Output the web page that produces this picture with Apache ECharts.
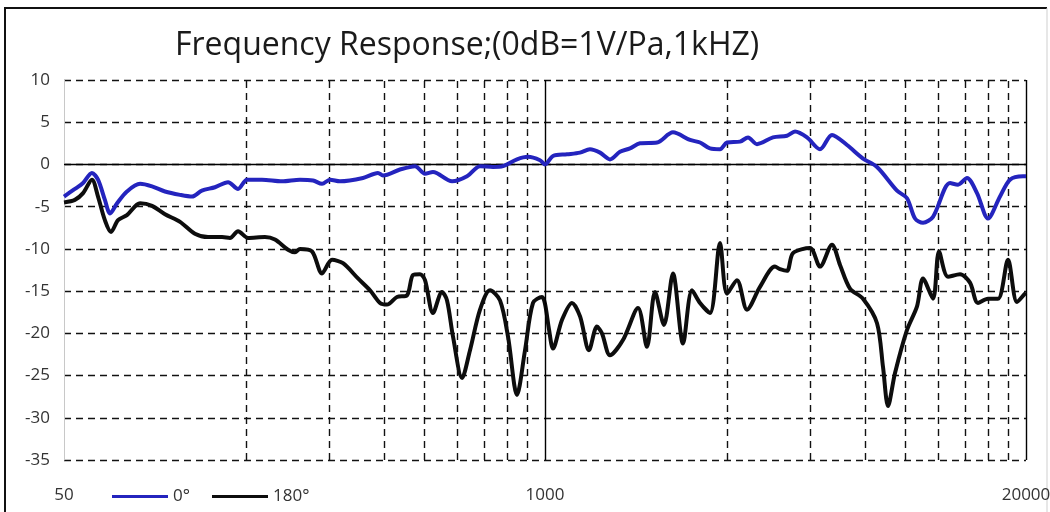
<!DOCTYPE html>
<html>
<head>
<meta charset="utf-8">
<script src="https://cdn.jsdelivr.net/npm/echarts@6/dist/echarts.min.js"></script>
<style>
html,body{margin:0;padding:0;background:#fff;}
#chart{width:1050px;height:512px;}
</style>
</head>
<body>
<div id="chart"></div>
<script>
// ---- data ----
const titleText = 'Frequency Response;(0dB=1V/Pa,1kHZ)';
const seriesNames = ['0°', '180°'];
const xTickLabels = [50, 1000, 20000];
const yMin = -35, yMax = 10, yStep = 5;

const freq0 = [50,53.5,56.3,59.5,61.8,64.5,66.6,69.6,74,80.3,86.5,93.8,103,111,118,128,138.9,147.8,156.3,171.6,194.4,217.4,235.8,249.4,262.1,278.9,321.9,353.4,364.6,405.3,445,473.6,497.8,560.4,615.3,667.2,723.4,769.9,840,899.5,969.4,1000,1051,1147,1243,1323,1409,1499,1595,1698,1807,2009,2219,2467,2626,2794,2974,3107,3369,3541,3745,4137,4514,4745,5113,5544,5974,6560,7247,7908,8957,9532,10020,10531,11207,12460,13096,13850,14740,15785,17010,18105,19630,20000];
const db0 = [-3.8,-2.9,-2.2,-1.0,-1.8,-4.2,-5.8,-4.6,-3.2,-2.3,-2.6,-3.2,-3.6,-3.8,-3.1,-2.7,-2.1,-2.9,-1.8,-1.8,-2.0,-1.8,-1.9,-2.3,-1.8,-2.0,-1.6,-1.0,-1.3,-0.6,-0.2,-1.1,-0.9,-2.0,-1.4,-0.2,-0.3,-0.2,0.6,0.9,0.5,0.0,1.0,1.2,1.4,1.8,1.4,0.6,1.5,1.9,2.5,2.6,3.8,2.9,2.6,1.9,1.8,2.6,2.7,3.2,2.4,3.2,3.4,3.9,3.2,1.8,3.5,2.3,0.7,-0.3,-3.1,-4.0,-6.4,-6.9,-6.2,-2.2,-2.4,-1.6,-3.4,-6.4,-3.8,-1.8,-1.4,-1.4];

const freq180 = [50,53.5,56.3,59.5,61.8,64.5,67,70,74,80.3,86.5,93.8,103,113,122.6,133.8,140.6,147.8,157.3,174.8,186,201.8,210.8,217.4,234.3,249.4,265.4,284.2,312,336.3,357.9,373.8,397.8,423.4,439.5,459.1,473.6,497.8,526.5,543.2,563.9,596.4,626.9,667.2,710,755.6,794.3,840,883,928,981.6,1000,1025,1051,1112,1183,1244,1315,1382,1426,1499,1625,1785,1887,1984,2098,2219,2362,2498,2626,2794,2974,3107,3306,3519,3815,4189,4322,4514,4686,5209,5544,5974,6280,6683,7247,7908,8209,8469,8846,9532,10145,10531,11207,11634,12305,13260,14110,14830,15785,16800,17880,18910,19875,20000];
const db180 = [-4.5,-4.2,-3.4,-1.8,-3.8,-6.6,-8.0,-6.6,-6.0,-4.6,-4.9,-5.9,-6.8,-8.2,-8.6,-8.6,-8.7,-7.9,-8.7,-8.6,-8.9,-10.1,-10.4,-10.0,-10.3,-12.9,-11.3,-11.7,-13.5,-14.9,-16.4,-16.6,-15.7,-15.5,-13.1,-13.0,-13.7,-17.6,-15.1,-16.1,-20.4,-25.3,-22.0,-17.2,-14.9,-16.1,-20.4,-27.3,-22.0,-16.4,-15.7,-16.5,-19.5,-21.8,-18.4,-16.4,-18.0,-22.0,-19.2,-20.0,-22.6,-20.8,-17.0,-21.6,-15.1,-19.0,-12.9,-21.2,-14.9,-16.4,-17.6,-9.3,-15.3,-13.7,-17.2,-14.5,-12.1,-12.4,-12.6,-10.5,-9.9,-12.1,-9.5,-11.9,-14.7,-15.9,-18.8,-24.0,-28.6,-24.7,-19.6,-16.8,-13.5,-15.9,-10.3,-13.3,-13.0,-14.0,-16.4,-15.9,-15.9,-11.3,-16.3,-15.3,-15.2];

// ---- build ----
const pair = (xs, ys) => xs.map((x, i) => [x, ys[i]]);

// minor vertical gridlines: 8 equal linear steps between each pair of labelled ticks
const minorGrid = [];
for (let m = 0; m < xTickLabels.length - 1; m++) {
  const a = xTickLabels[m], b = xTickLabels[m + 1];
  for (let k = 1; k <= 8; k++) minorGrid.push(a + (b - a) * k / 9);
}

const font = 'Open Sans';
const chart = echarts.init(document.getElementById('chart'), null, {renderer: 'canvas'});
chart.setOption({
  animation: false,
  backgroundColor: '#fff',
  title: {
    text: titleText,
    left: 170, top: 25,
    textStyle: {fontFamily: font, fontSize: 32, fontWeight: 'normal', color: '#1a1a1a'}
  },
  legend: {
    data: seriesNames,
    left: 107, top: 483,
    icon: 'rect',
    itemWidth: 56, itemHeight: 3, itemGap: 22,
    textStyle: {fontFamily: font, fontSize: 17, color: '#333'}
  },
  grid: {left: 64, right: 24, top: 80, bottom: 52, outerBoundsMode: 'none', containLabel: false},
  xAxis: {
    type: 'log', logBase: 10, min: 50, max: 20000,
    axisLine: {show: false}, axisTick: {show: false},
    splitLine: {show: false}, minorTick: {show: false}, minorSplitLine: {show: false},
    axisLabel: {
      customValues: xTickLabels, margin: 27, fontFamily: font, fontSize: 17, color: '#333',
      formatter: v => String(Math.round(v))
    }
  },
  yAxis: {
    type: 'value', min: yMin, max: yMax, interval: yStep,
    axisLine: {show: true, lineStyle: {color: '#c8c8c8', width: 1}},
    axisTick: {show: false},
    axisLabel: {margin: 14, fontFamily: font, fontSize: 17, color: '#333'},
    splitLine: {show: true, lineStyle: {color: '#111', width: 1.4, type: [7, 5]}}
  },
  series: [
    {
      type: 'line', data: [], silent: true, z: 1,
      markLine: {
        silent: true, symbol: ['none', 'none'], label: {show: false},
        lineStyle: {color: '#111', width: 1.4, type: [7, 5]},
        emphasis: {disabled: true},
        data: minorGrid.map(v => ({xAxis: v}))
      }
    },
    {
      type: 'line', data: [], silent: true, z: 1,
      markLine: {
        silent: true, symbol: ['none', 'none'], label: {show: false},
        lineStyle: {color: '#000', width: 1.4, type: 'solid'},
        emphasis: {disabled: true},
        data: [{yAxis: 0}, {xAxis: 1000}, {xAxis: 20000}]
      }
    },
    {
      name: seriesNames[0], type: 'line', data: pair(freq0, db0),
      symbol: 'none', smooth: 0.3, z: 5,
      lineStyle: {color: '#2424be', width: 4}, itemStyle: {color: '#2424be'}
    },
    {
      name: seriesNames[1], type: 'line', data: pair(freq180, db180),
      symbol: 'none', smooth: 0.3, z: 4,
      lineStyle: {color: '#0d0d0d', width: 4}, itemStyle: {color: '#0d0d0d'}
    }
  ],
  graphic: [
    {type: 'line', shape: {x1: 4, y1: 8, x2: 1047, y2: 8}, style: {stroke: '#111', lineWidth: 2}},
    {type: 'line', shape: {x1: 5, y1: 8, x2: 5, y2: 512}, style: {stroke: '#111', lineWidth: 2}},
    {type: 'line', shape: {x1: 1047, y1: 8, x2: 1047, y2: 512}, style: {stroke: '#cfcfcf', lineWidth: 1}}
  ]
});
</script>
</body>
</html>
